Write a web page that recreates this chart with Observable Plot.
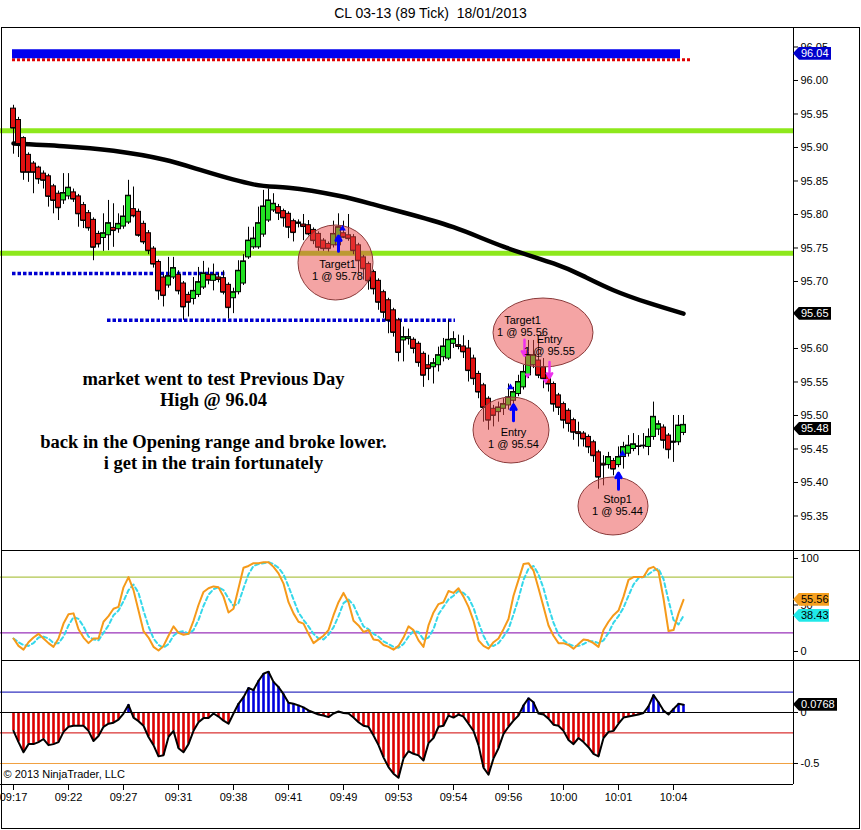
<!DOCTYPE html>
<html><head><meta charset="utf-8">
<script src="https://cdn.jsdelivr.net/npm/d3@7"></script>
<script src="https://cdn.jsdelivr.net/npm/@observablehq/plot@0.6"></script>
<style>
body{margin:0;background:#fff;font-family:"Liberation Sans",Arial,sans-serif;}
#wrap{position:relative;width:861px;height:830px;overflow:hidden;background:#fff;}
#title{position:absolute;left:0;top:0;width:861px;height:27px;text-align:center;font-size:14px;line-height:27px;color:#000;}
.panel{position:absolute;left:0;width:861px;}
.panel svg{display:block;}
.line{position:absolute;border-top:1px solid #000;height:0;}
#border{position:absolute;left:1px;top:27px;width:859px;height:802px;border:1px solid #000;box-sizing:border-box;}
.flag{position:absolute;height:13px;line-height:13px;font-size:11px;padding-left:8px;box-sizing:border-box;
  clip-path:polygon(0 50%,6px 0,100% 0,100% 100%,6px 100%);font-family:"Liberation Sans",Arial,sans-serif;white-space:nowrap;}
</style></head>
<body><div id="wrap">
<div id="title">CL 03-13 (89 Tick)&nbsp; 18/01/2013</div>
<div class="panel" id="main" style="top:27px"></div>
<div class="panel" id="stoch" style="top:550px"></div>
<div class="panel" id="macd" style="top:660px"></div>
<div id="border"></div>
<div class="line" style="left:1px;width:859px;top:550px"></div>
<div class="line" style="left:1px;width:859px;top:660px"></div>
</div>
<script>
// ---------- data ----------
const open = [
95.958,95.941,95.914,95.889,95.876,95.870,95.861,95.857,95.842,95.831,
95.821,95.827,95.833,95.827,95.814,95.802,95.792,95.771,95.765,95.769,
95.780,95.778,95.782,95.788,95.808,95.804,95.786,95.772,95.749,95.729,
95.706,95.694,95.706,95.710,95.697,95.680,95.674,95.680,95.691,95.710,
95.701,95.706,95.705,95.695,95.675,95.684,95.697,95.736,95.751,95.751,
95.770,95.791,95.806,95.811,95.805,95.801,95.790,95.786,95.785,95.784,
95.777,95.771,95.761,95.756,95.754,95.754,95.772,95.769,95.766,95.754,
95.736,95.726,95.714,95.701,95.684,95.672,95.657,95.642,95.612,95.614,
95.613,95.607,95.592,95.575,95.572,95.575,95.587,95.585,95.607,95.605,
95.603,95.600,95.585,95.562,95.545,95.525,95.510,95.505,95.510,95.515,
95.522,95.532,95.542,95.560,95.575,95.582,95.572,95.560,95.547,95.530,
95.517,95.507,95.493,95.475,95.473,95.468,95.460,95.445,95.428,95.426,
95.432,95.426,95.438,95.443,95.450,95.453,95.454,95.453,95.468,95.479,
95.482,95.470,95.461,95.460,95.474];
const high = [
95.963,95.945,95.916,95.892,95.879,95.872,95.865,95.860,95.845,95.835,
95.861,95.861,95.838,95.830,95.818,95.806,95.795,95.775,95.801,95.821,
95.816,95.801,95.813,95.851,95.841,95.808,95.790,95.776,95.752,95.732,
95.710,95.736,95.736,95.716,95.700,95.684,95.706,95.721,95.730,95.720,
95.726,95.712,95.716,95.698,95.690,95.731,95.740,95.781,95.781,95.811,
95.836,95.838,95.831,95.815,95.808,95.804,95.793,95.792,95.800,95.791,
95.780,95.774,95.764,95.759,95.790,95.801,95.790,95.800,95.770,95.757,
95.739,95.729,95.717,95.704,95.687,95.675,95.660,95.645,95.632,95.629,
95.616,95.610,95.595,95.590,95.585,95.602,95.615,95.642,95.625,95.620,
95.619,95.612,95.590,95.566,95.548,95.528,95.515,95.520,95.525,95.547,
95.542,95.560,95.575,95.612,95.612,95.612,95.585,95.563,95.550,95.533,
95.520,95.510,95.496,95.490,95.476,95.471,95.463,95.448,95.440,95.445,
95.436,95.453,95.460,95.470,95.473,95.470,95.473,95.480,95.520,95.492,
95.486,95.473,95.500,95.500,95.500];
const low = [
95.890,95.885,95.851,95.848,95.831,95.845,95.838,95.811,95.801,95.791,
95.815,95.822,95.818,95.781,95.779,95.775,95.731,95.750,95.745,95.746,
95.751,95.772,95.778,95.785,95.795,95.766,95.755,95.740,95.720,95.672,
95.662,95.690,95.703,95.680,95.642,95.647,95.665,95.676,95.688,95.695,
95.686,95.698,95.680,95.644,95.652,95.680,95.694,95.733,95.748,95.748,
95.766,95.788,95.803,95.791,95.781,95.764,95.759,95.780,95.761,95.768,
95.755,95.745,95.745,95.744,95.750,95.750,95.764,95.760,95.740,95.712,
95.702,95.687,95.680,95.657,95.645,95.622,95.617,95.580,95.580,95.605,
95.592,95.572,95.542,95.552,95.547,95.565,95.580,95.582,95.600,95.598,
95.585,95.550,95.545,95.525,95.490,95.478,95.483,95.490,95.500,95.508,
95.515,95.528,95.538,95.555,95.570,95.555,95.540,95.535,95.505,95.500,
95.480,95.475,95.463,95.453,95.453,95.443,95.430,95.390,95.395,95.420,
95.410,95.422,95.420,95.438,95.446,95.440,95.450,95.440,95.463,95.470,
95.450,95.435,95.430,95.455,95.470];
const close = [
95.929,95.905,95.863,95.863,95.863,95.853,95.851,95.827,95.821,95.810,
95.832,95.840,95.823,95.801,95.791,95.780,95.751,95.756,95.772,95.787,
95.776,95.786,95.797,95.828,95.798,95.769,95.759,95.746,95.726,95.686,
95.679,95.708,95.720,95.686,95.662,95.669,95.686,95.699,95.712,95.702,
95.710,95.703,95.684,95.661,95.684,95.716,95.730,95.761,95.764,95.787,
95.812,95.821,95.816,95.802,95.795,95.781,95.773,95.788,95.782,95.771,
95.761,95.751,95.749,95.749,95.771,95.781,95.766,95.764,95.746,95.731,
95.719,95.701,95.689,95.669,95.654,95.642,95.624,95.594,95.617,95.617,
95.600,95.579,95.560,95.570,95.578,95.590,95.603,95.613,95.614,95.603,
95.595,95.567,95.555,95.535,95.512,95.493,95.500,95.512,95.517,95.527,
95.535,95.550,95.565,95.590,95.590,95.560,95.555,95.547,95.517,95.512,
95.493,95.488,95.475,95.473,95.465,95.453,95.440,95.408,95.426,95.438,
95.420,95.438,95.453,95.455,95.457,95.454,95.455,95.468,95.498,95.487,
95.463,95.449,95.460,95.485,95.486];

// moving average (black line), read at selected bars
const maBars = [0,10,20,30,38,48,55,65,72,78,88,98,108,114,120,127,134];
const maVals = [95.906,95.902,95.895,95.882,95.865,95.845,95.840,95.828,95.815,95.803,95.781,95.752,95.727,95.708,95.687,95.668,95.652];

// stochastics %K (orange) and %D (cyan)
const stochK = [14,6,2,10,15,19,14,9,5,14, 30,40,41,24,15,9,14,14,32,38,
46,48,69,80,66,44,22,15,5,1, 6,17,27,20,18,19,33,50,64,68,
70,69,59,42,46,68,90,92,95,95, 96,96,91,84,73,53,41,32,30,19,
9,13,17,23,39,53,63,53,33,28, 21,23,13,12,7,5,2,6,15,27,
23,12,5,28,42,51,53,65,63,68, 59,48,33,12,6,3,10,14,24,35,
60,77,94,95,87,68,48,28,17,9, 9,7,3,8,13,12,9,5,23,32,
39,44,59,77,80,80,80,89,91,86, 57,22,23,41,55.56];
const stochD = [14,10,7,6,9,15,16,14,9,9, 16,28,37,35,27,16,13,12,20,28,
39,44,54,66,72,63,44,27,14,7, 4,8,17,21,22,19,23,34,49,61,
67,69,66,57,49,52,68,83,92,94, 95,96,94,90,83,70,56,42,34,27,
19,14,13,18,26,38,52,56,50,38, 27,24,19,16,11,8,5,4,8,16,
22,21,13,15,24,40,48,56,60,65, 63,58,47,31,17,7,6,9,16,24,
40,57,77,89,92,83,68,48,31,18, 12,8,6,6,8,11,11,9,12,20,
31,38,47,60,72,79,80,83,87,89, 78,55,34,29,38.43];

// MACD-type histogram
const macd = [-0.18,-0.29,-0.39,-0.31,-0.31,-0.29,-0.26,-0.32,-0.31,-0.29,
-0.19,-0.14,-0.13,-0.13,-0.13,-0.18,-0.28,-0.23,-0.14,-0.11,
-0.10,-0.07,-0.01,0.075,-0.05,-0.085,-0.13,-0.24,-0.32,-0.43,
-0.42,-0.24,-0.18,-0.35,-0.39,-0.31,-0.18,-0.095,-0.055,-0.055,
-0.01,-0.04,-0.08,-0.11,-0.01,0.085,0.15,0.24,0.22,0.31,
0.38,0.40,0.30,0.25,0.18,0.095,0.085,0.07,0.05,0.02,
0,-0.02,-0.03,-0.045,-0.01,0.01,-0.005,-0.01,-0.05,-0.095,
-0.13,-0.14,-0.225,-0.32,-0.44,-0.535,-0.60,-0.64,-0.45,-0.38,
-0.405,-0.42,-0.47,-0.30,-0.25,-0.14,-0.13,-0.03,-0.05,-0.02,
-0.04,-0.11,-0.18,-0.32,-0.54,-0.61,-0.45,-0.35,-0.21,-0.14,
-0.08,-0.03,0.07,0.14,0.10,-0.01,-0.02,-0.06,-0.12,-0.13,
-0.18,-0.27,-0.31,-0.25,-0.29,-0.34,-0.405,-0.43,-0.25,-0.19,
-0.18,-0.11,-0.05,-0.04,-0.03,-0.02,-0.005,0.06,0.17,0.10,
0.02,-0.02,0.035,0.085,0.0768];

// axes
const priceTicks = [95.35,95.40,95.45,95.50,95.55,95.60,95.70,95.75,95.80,95.85,95.90,95.95,96.00,96.05];
const stochTicks = [0,50,100];
const macdTicks = [0,-0.5];
const timeBars = [0,11,22,33,44,55,66,77,88,99,110,121,132];
const timeLabels = ["09:17","09:22","09:27","09:31","09:38","09:41","09:49","09:53","09:54","09:56","10:00","10:01","10:04"];

// levels
const prevDayHigh = 96.04;
const prevDayHighSpan = [-0.2, 133.4];
const redDotLevel = 96.031;
const redDotSpan = [-0.2, 135.4];
const greenLevels = [95.925, 95.742];
const openingRange = [{price:95.712, from:-0.2, to:42.4},{price:95.642, from:18.8, to:88.4}];
const stochLevels = [80, 20];
const macdLevels = [0.2, -0.2, -0.5];
const lastPrice = 95.48;

// annotations
const ellipses = [{bar:64.5, price:95.7276},{bar:106, price:95.6231},{bar:99.6, price:95.4776},{bar:120, price:95.3642}];
const ellipseRadii = [[37.5,37.5],[50,34.5],[38,33],[35,29]];
const ellipseTexts = [
 {bar:64.8, price:95.7164, text:"Target1\n1 @ 95.78"},
 {bar:101.8, price:95.634, text:"Target1\n1 @ 95.56"},
 {bar:107.2, price:95.6045, text:"Entry\n1 @ 95.55"},
 {bar:100, price:95.4657, text:"Entry\n1 @ 95.54"},
 {bar:120.8, price:95.3657, text:"Stop1\n1 @ 95.44"}];
const buyArrows = [{bar:65, from:95.745, to:95.768},{bar:100, from:95.492, to:95.516},{bar:121, from:95.390, to:95.414}];
const sellArrows = [{bar:102.2, from:95.613, to:95.589},{bar:107.2, from:95.580, to:95.556}];
const buyMarks = [{bar:65.8, price:95.779},{bar:99.4, price:95.542},{bar:121.8, price:95.443}];
const sellMarks = [{bar:102.8, price:95.560},{bar:106.4, price:95.552}];
const note = {bar:40, price:95.4933, text:"market went to test Previous Day\nHigh @ 96.04\n\nback in the Opening range and broke lower.\ni get in the train fortunately"};

// ---------- chart ----------
const xDomain = [-2.6, 156];
const W = 861, MR = 68;
const style = {fontFamily:"'Liberation Sans', Arial, sans-serif", fontSize:"11px", background:"transparent", overflow:"visible"};
const GREEN = "#22e022", RED = "#e01010";

const candles = close.map((c,i)=>({i, o:open[i], h:high[i], l:low[i], c}));
const ma = maBars.map((b,k)=>({b, v:maVals[k]}));
const xMax = xDomain[1];
const wrap = document.getElementById("wrap");

function flag(panelTop, x0, y, text, bg, fg, w){
  const d = document.createElement("div");
  d.className = "flag";
  d.style.left = x0 + "px";
  d.style.top = (panelTop + y - 6.5) + "px";
  d.style.width = w + "px";
  d.style.background = bg;
  d.style.color = fg;
  d.textContent = text;
  wrap.appendChild(d);
}

// main price panel
const main = Plot.plot({
  width:W, height:523, marginLeft:0, marginRight:MR, marginTop:0, marginBottom:0,
  style,
  x:{domain:xDomain, axis:null},
  y:{domain:[95.2985, 96.0791], axis:null},
  marks:[
    Plot.axisY(priceTicks, {anchor:"right", label:null, tickSize:4, tickPadding:3, tickFormat:d=>d.toFixed(2)}),
    Plot.ruleX([xMax], {stroke:"#000"}),
    Plot.ruleY([redDotLevel], {x1:redDotSpan[0], x2:redDotSpan[1], stroke:"#e00000", strokeWidth:3, strokeDasharray:"3,2"}),
    Plot.ruleY([prevDayHigh], {x1:prevDayHighSpan[0], x2:prevDayHighSpan[1], stroke:"#0000ee", strokeWidth:9}),
    Plot.ruleY(greenLevels, {stroke:"#8ee81c", strokeWidth:5}),
    Plot.ruleY(openingRange, {y:"price", x1:"from", x2:"to", stroke:"#0000d0", strokeWidth:3.5, strokeDasharray:"3.5,2"}),
    Plot.line(ma, {x:"b", y:"v", stroke:"#000", strokeWidth:4.5, curve:"natural"}),
    Plot.ruleX(candles, {x:"i", y1:"l", y2:"h", stroke:"#000", strokeWidth:1}),
    Plot.rect(candles, {x1:d=>d.i-0.5, x2:d=>d.i+0.5, y1:"o", y2:"c", fill:d=>d.c>=d.o?GREEN:RED, stroke:"#000", strokeWidth:1}),
    Plot.ruleY(candles, {y:"c", x1:d=>d.i-0.5, x2:d=>d.i+0.5, stroke:"#000", strokeWidth:1}),
    Plot.arrow(buyArrows, {x1:"bar", x2:"bar", y1:"from", y2:"to", stroke:"#0000ff", strokeWidth:3, headLength:6}),
    Plot.arrow(sellArrows, {x1:"bar", x2:"bar", y1:"from", y2:"to", stroke:"#ee30ee", strokeWidth:2.5, headLength:5}),
    Plot.dot(buyMarks, {x:"bar", y:"price", symbol:"triangle", r:2.5, fill:"#0000ff"}),
    Plot.dot(sellMarks, {x:"bar", y:"price", symbol:"triangle", r:2.2, fill:"#ee30ee", rotate:180}),
    Plot.text(ellipseTexts, {x:"bar", y:"price", text:"text", fontSize:11, fill:"#000", lineHeight:1.1, lineAnchor:"middle"}),
    Plot.text([note], {x:"bar", y:"price", text:"text", fontSize:18.5, fontWeight:"bold", fontFamily:"'Liberation Serif', 'Times New Roman', serif", lineHeight:1.14, lineAnchor:"middle", fill:"#000"})
  ]
});
document.getElementById("main").appendChild(main);
(function(){
  const xs = main.scale("x"), ys = main.scale("y");
  const sel = d3.select(main);
  const before = main.querySelector('g[aria-label="arrow"]');
  const g = before ? sel.insert("g", ()=>before) : sel.append("g");
  ellipses.forEach((e,k)=>{
    g.append("ellipse").attr("cx", xs.apply(e.bar)).attr("cy", ys.apply(e.price))
      .attr("rx", ellipseRadii[k][0]).attr("ry", ellipseRadii[k][1])
      .attr("fill","rgb(233,73,73)").attr("fill-opacity",0.5).attr("stroke","#8a3a3a").attr("stroke-width",1);
  });
  const x0 = xs.apply(xMax);
  flag(27, x0, ys.apply(prevDayHigh), "96.04", "#0000cc", "#fff", 38);
  flag(27, x0, ys.apply(maVals[maVals.length-1]), "95.65", "#000", "#fff", 38);
  flag(27, x0, ys.apply(lastPrice), "95.48", "#000", "#fff", 38);
})();

// stochastics panel
const stochData = stochK.map((k,i)=>({i, k, d:stochD[i]}));
const stoch = Plot.plot({
  width:W, height:110, marginLeft:0, marginRight:MR, marginTop:0, marginBottom:0,
  style,
  x:{domain:xDomain, axis:null},
  y:{domain:[-9.68, 108.6], axis:null},
  marks:[
    Plot.axisY(stochTicks, {anchor:"right", label:null, tickSize:4, tickPadding:3}),
    Plot.ruleX([xMax], {stroke:"#000"}),
    Plot.ruleY([stochLevels[0]], {stroke:"#9cb820", strokeWidth:1}),
    Plot.ruleY([stochLevels[1]], {stroke:"#8000a8", strokeWidth:1}),
    Plot.line(stochData, {x:"i", y:"d", stroke:"#35d8ea", strokeWidth:2, strokeDasharray:"4,3"}),
    Plot.line(stochData, {x:"i", y:"k", stroke:"#f59a1a", strokeWidth:2})
  ]
});
document.getElementById("stoch").appendChild(stoch);
(function(){
  const xs = stoch.scale("x"), ys = stoch.scale("y");
  const x0 = xs.apply(xMax);
  flag(550, x0, ys.apply(stochK[stochK.length-1]), "55.56", "#f5a020", "#000", 36);
  flag(550, x0, ys.apply(stochD[stochD.length-1]), "38.43", "#20e8e8", "#000", 36);
})();

// macd panel
const macdData = macd.map((v,i)=>({i, v}));
const macdPlot = Plot.plot({
  width:W, height:168, marginLeft:0, marginRight:MR, marginTop:0, marginBottom:44,
  style,
  x:{domain:xDomain, axis:null},
  y:{domain:[-0.7059, 0.5098], axis:null},
  marks:[
    Plot.axisY(macdTicks, {anchor:"right", label:null, tickSize:4, tickPadding:3, tickFormat:d=>String(d)}),
    Plot.axisX(timeBars, {anchor:"bottom", label:null, tickSize:6, tickPadding:3, tickFormat:(d)=>timeLabels[timeBars.indexOf(d)]}),
    Plot.ruleX([xMax], {stroke:"#000"}),
    Plot.ruleY([-0.7059], {stroke:"#000"}),
    Plot.ruleY([macdLevels[0]], {stroke:"#0000b0", strokeWidth:1}),
    Plot.ruleY([macdLevels[1]], {stroke:"#d00000", strokeWidth:1}),
    Plot.ruleY([macdLevels[2]], {stroke:"#f0a040", strokeWidth:1}),
    Plot.ruleX(macdData, {x:"i", y1:0, y2:"v", stroke:d=>d.v>=0?"#0000dd":"#dd0000", strokeWidth:2.6}),
    Plot.ruleY([0], {stroke:"#000", strokeWidth:1}),
    Plot.line(macdData, {x:"i", y:"v", stroke:"#000", strokeWidth:2}),
    Plot.text(["© 2013 NinjaTrader, LLC"], {frameAnchor:"bottom-left", dx:3, dy:-7, textAnchor:"start", fontSize:11, fill:"#000"})
  ]
});
document.getElementById("macd").appendChild(macdPlot);
(function(){
  const xs = macdPlot.scale("x"), ys = macdPlot.scale("y");
  flag(660, xs.apply(xMax), ys.apply(macd[macd.length-1]), "0.0768", "#000", "#fff", 44);
})();
</script>
</body></html>
